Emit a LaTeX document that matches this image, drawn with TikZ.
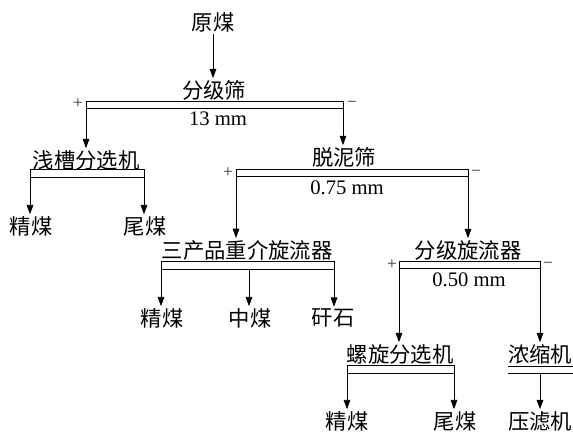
\documentclass[tikz,border=0pt]{standalone}
\usepackage{fontspec}
\setmainfont{Liberation Serif}
\newfontfamily\cjk{Noto Sans CJK SC}
\usetikzlibrary{arrows.meta}
\begin{document}
\begin{tikzpicture}[x=0.75pt,y=-0.75pt,
  lbl/.style={inner sep=0pt, outer sep=1.5pt, font=\cjk\fontsize{16pt}{19pt}\selectfont},
  num/.style={inner sep=0pt, font=\fontsize{15.5pt}{18pt}\selectfont},
  sgn/.style={inner sep=0pt, font=\fontsize{13pt}{14pt}\selectfont, text=black!80},
  ln/.style={line width=0.6pt},
  arr/.style={line width=0.6pt,-{Triangle[length=7pt,width=5pt]}}]
\useasboundingbox (0,0) rectangle (573,432);
\fill[white] (0,0) rectangle (573,432);

% level 0
\node[lbl] (ym) at (213,22) {原煤};
\node[lbl] (fjs) at (214,90) {分级筛};
\draw[arr] (ym.south) -- (ym.south |- fjs.north);
\draw[ln] (86,101) coordinate (b1a) rectangle (343,108) coordinate (b1b);
\node[sgn] (p1) at (78,104) {+};
\node[sgn] (m1) at (352,104) {−};
\node[num] (s1) at (218,119) {13 mm};

% left branch
\node[lbl] (qc) at (86,160) {浅槽分选机};
\draw[arr] (b1a |- b1b) -- (b1a |- qc.north);
\draw[ln] (30,169) coordinate (b2a) rectangle (144,177) coordinate (b2b);
\node[lbl] (jm1) at (31,226) {精煤};
\node[lbl] (wm1) at (145,226) {尾煤};
\draw[arr] (b2a |- b2b) -- (b2a |- jm1.north);
\draw[arr] (b2b) -- (b2b |- wm1.north);

% right branch
\node[lbl] (tns) at (344,157) {脱泥筛};
\draw[arr] (b1b) -- (b1b |- tns.north);
\draw[ln] (236,169) coordinate (b3a) rectangle (468,176) coordinate (b3b);
\node[sgn] (p2) at (228,173) {+};
\node[sgn] (m2) at (476,173) {−};
\node[num] (s2) at (347,188) {0.75 mm};

\node[lbl] (scp) at (247,250) {三产品重介旋流器};
\node[lbl] (fjx) at (468,250) {分级旋流器};
\draw[arr] (b3a |- b3b) -- (b3a |- scp.north);
\draw[arr] (b3b) -- (b3b |- fjx.north);

% three-product cyclone
\draw[ln] (161,261) coordinate (b4a) rectangle (334,269) coordinate (b4b);
\node[lbl] (jm2) at (162,318) {精煤};
\node[lbl] (zm) at (250,318) {中煤};
\node[lbl] (gs) at (333,318) {矸石};
\draw[arr] (b4a |- b4b) -- (b4a |- jm2.north);
\draw[arr] (249,269) coordinate (b4m) -- (b4m |- zm.north);
\draw[arr] (b4b) -- (b4b |- gs.north);

% classifying cyclone
\draw[ln] (399,261) coordinate (b5a) rectangle (540,268) coordinate (b5b);
\node[sgn] (p3) at (392,265) {+};
\node[sgn] (m3) at (548,265) {−};
\node[num] (s3) at (469,280) {0.50 mm};

\node[lbl] (lx) at (400,354) {螺旋分选机};
\node[lbl] (ns) at (540,354) {浓缩机};
\draw[arr] (b5a |- b5b) -- (b5a |- lx.north);
\draw[arr] (b5b) -- (b5b |- ns.north);

% spiral
\draw[ln] (347,365) coordinate (b6a) rectangle (454,373) coordinate (b6b);
\node[lbl] (jm3) at (347,421) {精煤};
\node[lbl] (wm3) at (455,421) {尾煤};
\draw[arr] (b6a |- b6b) -- (b6a |- jm3.north);
\draw[arr] (b6b) -- (b6b |- wm3.north);

% thickener
\draw[ln] (508,366) coordinate (c1) -- (573,366) coordinate (c2);
\draw[ln] (508,373) coordinate (c3) -- (573,373) coordinate (c4);
\node[lbl] (ylj) at (540,421) {压滤机};
\draw[arr] (540,373) coordinate (c5) -- (c5 |- ylj.north);
\end{tikzpicture}
\end{document}
